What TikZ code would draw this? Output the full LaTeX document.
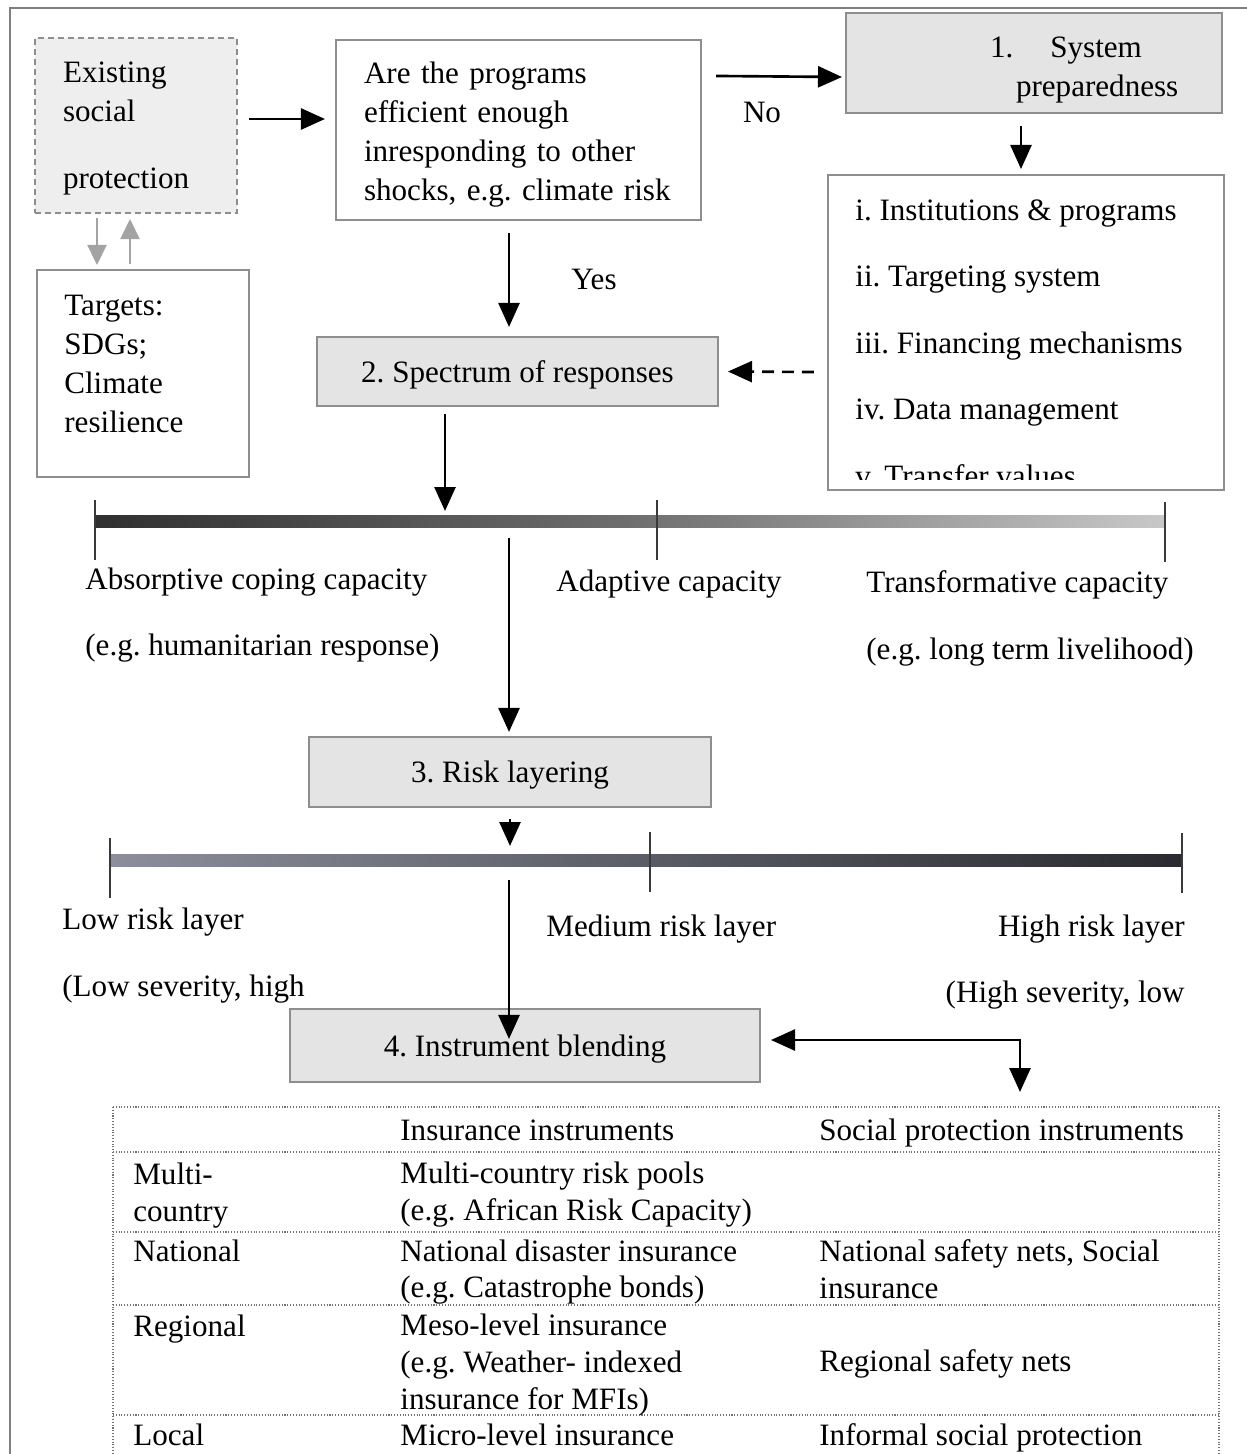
\documentclass[tikz,border=0pt]{standalone}
\usepackage{fontspec}
\setmainfont{Liberation Serif}
\usetikzlibrary{arrows.meta,calc,positioning}
\definecolor{frameline}{HTML}{7F7F7F}
\definecolor{boxline}{HTML}{8E8E8E}
\definecolor{boxfill}{HTML}{E4E4E4}
\definecolor{dashfill}{HTML}{EEEEEE}
\definecolor{greyarrow}{HTML}{A3A3A3}
\definecolor{tickline}{HTML}{3A3A3A}
\definecolor{capleft}{HTML}{303030}
\definecolor{capmid}{HTML}{6E6E6E}
\definecolor{capright}{HTML}{C8C8C8}
\definecolor{riskleft}{HTML}{8C8F9B}
\definecolor{riskmid}{HTML}{5A5C66}
\definecolor{riskright}{HTML}{2A2A30}
\tikzset{
  box/.style={draw=boxline,line width=1.2pt,inner sep=0pt,align=left},
  shadedbox/.style={box,fill=boxfill,text height=13pt,text depth=1pt},
  txt/.style={inner sep=0pt,align=left},
  oneline/.style={txt,text height=13pt,text depth=1pt},
  tbl/.style={txt,anchor=west,font=\fontsize{17.7}{21}\selectfont},
  arr/.style={line width=1.5pt,-{Triangle[length=0.48cm,width=0.42cm]}},
  garr/.style={line width=1.4pt,draw=greyarrow,-{Triangle[length=0.4cm,width=0.38cm]}},
  tick/.style={draw=tickline,line width=0.8pt},
  dotline/.style={draw=black!55,densely dotted,line width=0.6pt}
}
\frenchspacing

\begin{document}
\begin{tikzpicture}[x=0.02cm,y=-0.02cm,font=\fontsize{17.7}{22.2}\selectfont]
   \useasboundingbox (0,0) rectangle (1247,1454) ;
   %\draw[very thin,gray!30,step=50] (0,0) grid (1247,1454) ;
   \draw[frameline,line width=1.1pt] (10,1454) -- (10,8) -- (1247,8) ;

   \node[box,fill=dashfill,dash pattern=on 0.12cm off 0.08cm,text width=2.92cm,inner xsep=0.56cm,minimum height=3.5cm] (exist) at (136,125.5) {\rule{0pt}{15pt}Existing\\social\\[0.56cm]protection} ;
   \node[box,fill=white,text width=6.18cm,inner xsep=0.56cm,minimum height=3.6cm] (question) at (518.5,130) {\rule{0pt}{17.8pt}Are the programs\\efficient enough\\inresponding to other\\shocks, e.g. climate risk} ;
   \node[box,fill=boxfill,text width=7.52cm,minimum height=2cm] (prep) at (1034,63) {\rule{0pt}{20pt}\hspace*{2.88cm}1.\hspace{0.74cm}System\\\hspace*{3.4cm}preparedness} ;
   \node[box,minimum width=7.92cm,minimum height=6.3cm] (measures) at (1026,332.5) {} ;
   \begin{scope}
      \clip (828,175) rectangle (1224,479) ;
      \foreach \entry [count=\i] in {i. Institutions \& programs,ii. Targeting system,iii. Financing mechanisms,iv. Data management,v. Transfer values}
         \node[oneline,anchor=west] (item\i) at (855,{210+66.4*(\i-1)}) {\entry} ;
   \end{scope}
   \node[box,minimum width=4.24cm,minimum height=4.14cm] (targets) at (143,373.5) {} ;
   \node[txt,anchor=west] (targetstxt) at (64,363.5) {Targets:\\SDGs;\\Climate\\resilience} ;
   \node[shadedbox,minimum width=8.02cm,minimum height=1.38cm] (spectrum) at (517.5,371.5) {2. Spectrum of responses} ;
   \node[shadedbox,minimum width=8.04cm,minimum height=1.4cm] (risk) at (510,772) {3. Risk layering} ;
   \node[shadedbox,minimum width=9.4cm,minimum height=1.46cm] (blend) at (525,1045.5) {4. Instrument blending} ;

   % arrows at the top
   \draw[arr] ($(exist.east)+(11,-6.5)$) -- ($(question.west)+(-10,-11)$) ;
   \draw[garr] ($(exist.south)+(-39,4)$) -- ($(targets.north)+(-46,-4)$) ;
   \draw[garr] ($(targets.north)+(-13,-5)$) -- ($(exist.south)+(-6,5)$) ;
   \draw[arr] ($(question.north east)+(14,37)$) -- ($(prep.west)+(-3,14)$) ;
   \node[oneline] (no) at (762,112) {No} ;
   \draw[arr] ($(prep.south)+(-13,12)$) -- ($(measures.north)+(-5,-5)$) ;
   \draw[arr,dash pattern=on 0.24cm off 0.16cm] ($(measures.west)+(-13,39.5)$) -- ($(spectrum.east)+(9,0)$) ;
   \draw[arr] ($(question.south)+(-9.5,12)$) -- ($(spectrum.north)+(-8.5,-9)$) ;
   \node[oneline] (yes) at (594,279) {Yes} ;

   % capacity bar
   \shade[left color=capleft,right color=capright,middle color=capmid] (95,515) rectangle (1165,527) ;
   \draw[tick] (95,500) -- (95,560) (657,500) -- (657,560) (1165,502) -- (1165,562) ;
   \coordinate (baronetop) at (445,511) ;
   \coordinate (baronebot) at (509,538) ;
   \draw[arr] ($(spectrum.south)+(-72.5,7)$) -- (baronetop) ;
   \node[oneline,anchor=west] (absorb) at (85,579) {Absorptive coping capacity} ;
   \node[oneline,anchor=west] (absorbeg) at (85,645) {(e.g. humanitarian response)} ;
   \node[oneline,anchor=west] (adapt) at (556,581) {Adaptive capacity} ;
   \node[oneline,anchor=west] (transf) at (866,582) {Transformative capacity} ;
   \node[oneline,anchor=west] (transfeg) at (866,649) {(e.g. long term livelihood)} ;
   \draw[arr] (baronebot) -- ($(risk.north)+(-1,-4)$) ;

   % risk bar
   \shade[left color=riskleft,right color=riskright,middle color=riskmid] (110,854) rectangle (1182,866) ;
   \draw[tick] (110,838) -- (110,898) (650,832) -- (650,892) (1182,833) -- (1182,893) ;
   \coordinate (bartwotop) at (510,846) ;
   \coordinate (bartwobot) at (509,880) ;
   \draw[arr] ($(risk.south)+(0,11)$) -- (bartwotop) ;
   \node[oneline,anchor=west] (low) at (62,919) {Low risk layer} ;
   \node[oneline,anchor=west] (loweg) at (62,986) {(Low severity, high} ;
   \node[oneline,anchor=west] (medium) at (546,926) {Medium risk layer} ;
   \node[oneline,anchor=east] (high) at (1185,926) {High risk layer} ;
   \node[oneline,anchor=east] (higheg) at (1185,992) {(High severity, low} ;
   \draw[arr] (bartwobot) -- ($(blend.north)+(-16,31)$) ;
   \coordinate (tabletop) at (1020,1092) ;
   \draw[{Triangle[length=0.48cm,width=0.42cm]}-{Triangle[length=0.48cm,width=0.42cm]},line width=1.5pt] ($(blend.east)+(10,-5.5)$) -| (tabletop) ;

   % table
   \foreach \y in {1107,1152,1232,1305,1415}
      \draw[dotline] (113,\y) -- (1219,\y) ;
   \draw[dotline] (113,1107) -- (113,1454) (1219,1107) -- (1219,1454) ;
   \node[tbl,oneline] (hdins) at (400,1130) {Insurance instruments} ;
   \node[tbl,oneline] (hdsoc) at (819,1130) {Social protection instruments} ;
   \node[tbl] (multi) at (133,1196) {Multi-\\country} ;
   \node[tbl] (multiins) at (400,1194.5) {Multi-country risk pools\\(e.g. African Risk Capacity)} ;
   \node[tbl,oneline] (nat) at (133,1251) {National} ;
   \node[tbl] (natins) at (400,1272) {National disaster insurance\\(e.g. Catastrophe bonds)} ;
   \node[tbl] (natsoc) at (819,1269) {National safety nets, Social\\insurance} ;
   \node[tbl,oneline] (reg) at (133,1326) {Regional} ;
   \node[tbl] (regins) at (400,1365) {Meso-level insurance\\(e.g. Weather- indexed\\insurance for MFIs)} ;
   \node[tbl,oneline] (regsoc) at (819,1361) {Regional safety nets} ;
   \node[tbl,oneline] (loc) at (133,1435) {Local} ;
   \node[tbl,oneline] (locins) at (400,1435) {Micro-level insurance} ;
   \node[tbl,oneline] (locsoc) at (819,1435) {Informal social protection} ;
\end{tikzpicture}
\end{document}
